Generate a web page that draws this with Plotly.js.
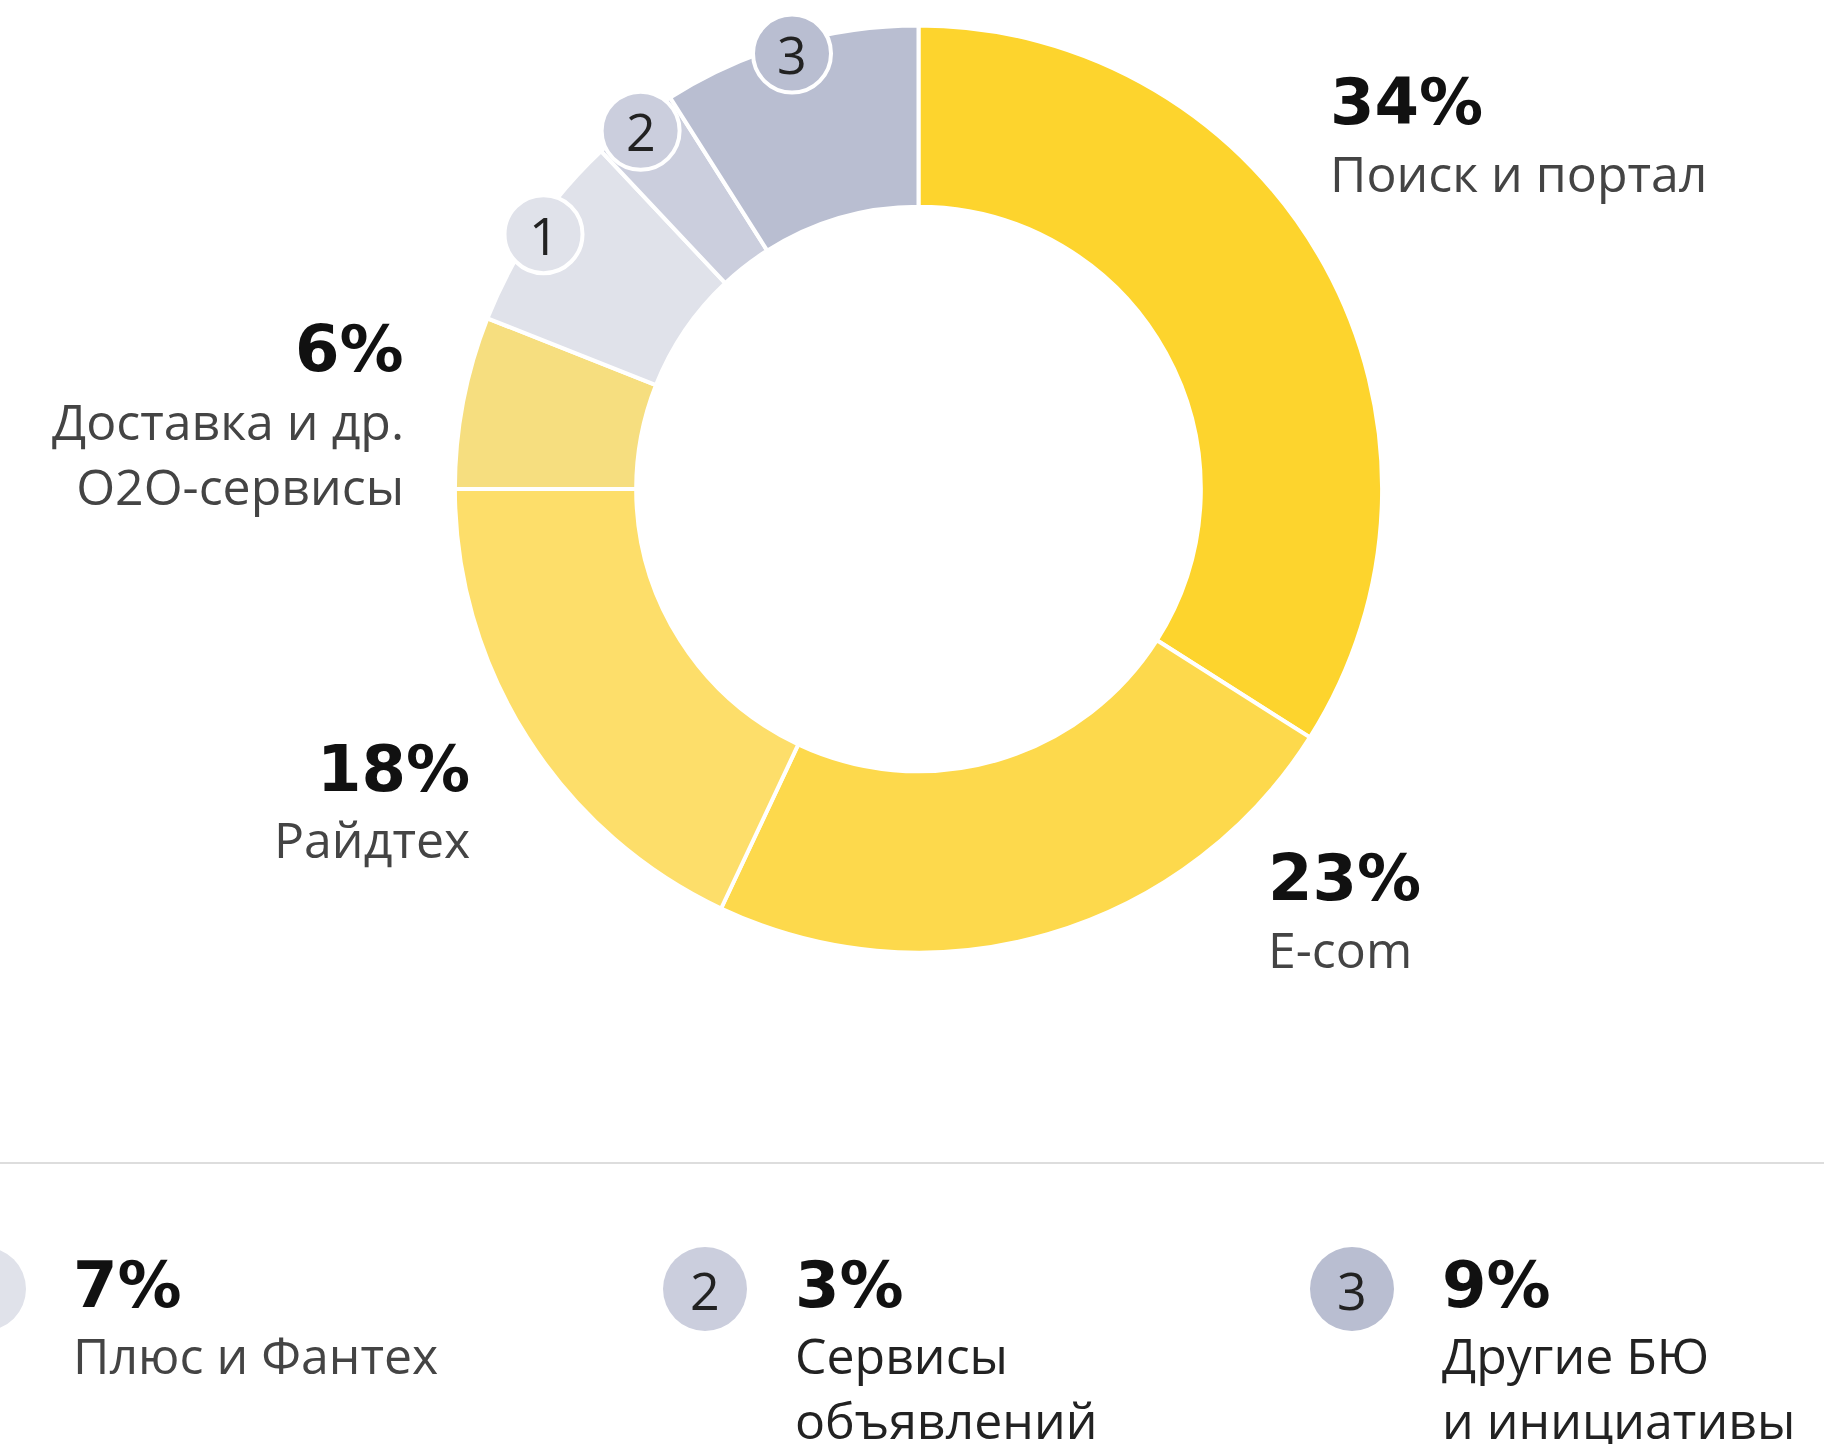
<!DOCTYPE html>
<html>
<head>
<meta charset="utf-8">
<script src="https://cdn.plot.ly/plotly-3.0.1.min.js"></script>
<style>
html,body{margin:0;padding:0;background:#fff;}
#chart{width:1824px;height:1444px;}
</style>
</head>
<body>
<div id="chart"></div>
<script>
// ---- data ----
const segments = ['Поиск и портал', 'E-com', 'Райдтех', 'Доставка и др.<br>О2О-сервисы', 'Плюс и Фантех', 'Сервисы<br>объявлений', 'Другие БЮ<br>и инициативы'];
const shares = [34, 23, 18, 6, 7, 3, 9];
const badgeNumbers = ['', '', '', '', '1', '2', '3'];

// ---- styles ----
const sliceColors = ['#FDD42D', '#FDD94C', '#FDDE6A', '#F6DE7F', '#E0E2EA', '#CBCEDD', '#B9BED1'];
const W = 1824, H = 1444;
const cx = 918.5, cy = 489, R = 463.6, hole = 0.609;

const pctFont = {family: 'DejaVu Sans', size: 64, color: '#111111', weight: 700};
const lblFont = {family: 'Open Sans', size: 50, color: '#444444'};
const numFont = {family: 'Open Sans', size: 52, color: '#222222'};

// label placement for the big labels around the donut (index -> layout)
const donutLabelPos = {
  0: {x: 1328, yPct: 102, yLbl: 173, anchor: 'left'},
  1: {x: 1266, yPct: 878, yLbl: 949, anchor: 'left'},
  2: {x: 472, yPct: 769, yLbl: 839, anchor: 'right'},
  3: {x: 406, yPct: 349, yLbl: 453.5, anchor: 'right'}
};
// legend placement for the small slices
const legendPos = {
  4: {cx: -16, tx: 71, color: '#444444'},
  5: {cx: 705, tx: 793, color: '#222222'},
  6: {cx: 1352, tx: 1440, color: '#222222'}
};
const legendY = 1289, legendPctY = 1285, legendLblTop = 1319;

const total = shares.reduce((a, b) => a + b, 0);

const traces = [
  {
    type: 'pie',
    values: shares,
    labels: segments,
    sort: false,
    direction: 'clockwise',
    rotation: 0,
    hole: hole,
    textinfo: 'none',
    hoverinfo: 'label+percent',
    marker: {colors: sliceColors, line: {color: '#ffffff', width: 4}},
    domain: {x: [(cx - R) / W, (cx + R) / W], y: [(H - cy - R) / H, (H - cy + R) / H]},
    showlegend: false
  },
  {type: 'scatter', x: [], y: [], mode: 'markers', showlegend: false, hoverinfo: 'skip'}
];

const shapes = [];
const annotations = [];

// separator line
shapes.push({type: 'line', xref: 'x', yref: 'y', x0: 0, x1: W, y0: 1163, y1: 1163, line: {color: '#DDDDDD', width: 2}, layer: 'above'});

let cum = 0;
shares.forEach((v, i) => {
  const mid = (cum + v / 2) / total * 2 * Math.PI;
  cum += v;
  const pct = v + '%';
  if (donutLabelPos[i]) {
    const p = donutLabelPos[i];
    annotations.push({xref: 'x', yref: 'y', x: p.x, y: p.yPct, text: '<b>' + pct + '</b>', showarrow: false, xanchor: p.anchor, yanchor: 'middle', font: pctFont});
    annotations.push({xref: 'x', yref: 'y', x: p.x, y: p.yLbl, text: segments[i], showarrow: false, xanchor: p.anchor, yanchor: 'middle', align: p.anchor, font: lblFont});
  }
  if (badgeNumbers[i]) {
    // badge on the donut
    const rC = 0.978 * R, br = 39;
    const bx = cx + rC * Math.sin(mid), by = cy - rC * Math.cos(mid);
    shapes.push({type: 'circle', xref: 'x', yref: 'y', x0: bx - br, x1: bx + br, y0: by - br, y1: by + br,
      fillcolor: sliceColors[i], line: {color: '#ffffff', width: 4}, layer: 'above'});
    annotations.push({xref: 'x', yref: 'y', x: bx, y: by, text: badgeNumbers[i], showarrow: false, xanchor: 'center', yanchor: 'middle', font: numFont});
    // legend entry below
    const lp = legendPos[i], lr = 42;
    shapes.push({type: 'circle', xref: 'x', yref: 'y', x0: lp.cx - lr, x1: lp.cx + lr, y0: legendY - lr, y1: legendY + lr,
      fillcolor: sliceColors[i], line: {width: 0}, layer: 'above'});
    annotations.push({xref: 'x', yref: 'y', x: lp.cx, y: legendY, text: badgeNumbers[i], showarrow: false, xanchor: 'center', yanchor: 'middle', font: numFont});
    annotations.push({xref: 'x', yref: 'y', x: lp.tx, y: legendPctY, text: '<b>' + pct + '</b>', showarrow: false, xanchor: 'left', yanchor: 'middle', font: pctFont});
    annotations.push({xref: 'x', yref: 'y', x: lp.tx, y: legendLblTop, text: segments[i], showarrow: false, xanchor: 'left', yanchor: 'top', align: 'left',
      font: {family: lblFont.family, size: lblFont.size, color: lp.color}});
  }
});

const layout = {
  width: W, height: H,
  margin: {l: 0, r: 0, t: 0, b: 0, pad: 0},
  paper_bgcolor: '#ffffff', plot_bgcolor: 'rgba(0,0,0,0)',
  xaxis: {range: [0, W], visible: false, fixedrange: true, domain: [0, 1]},
  yaxis: {range: [H, 0], visible: false, fixedrange: true, domain: [0, 1]},
  shapes: shapes,
  annotations: annotations,
  showlegend: false
};

Plotly.newPlot('chart', traces, layout, {staticPlot: true, displayModeBar: false});
</script>
</body>
</html>
